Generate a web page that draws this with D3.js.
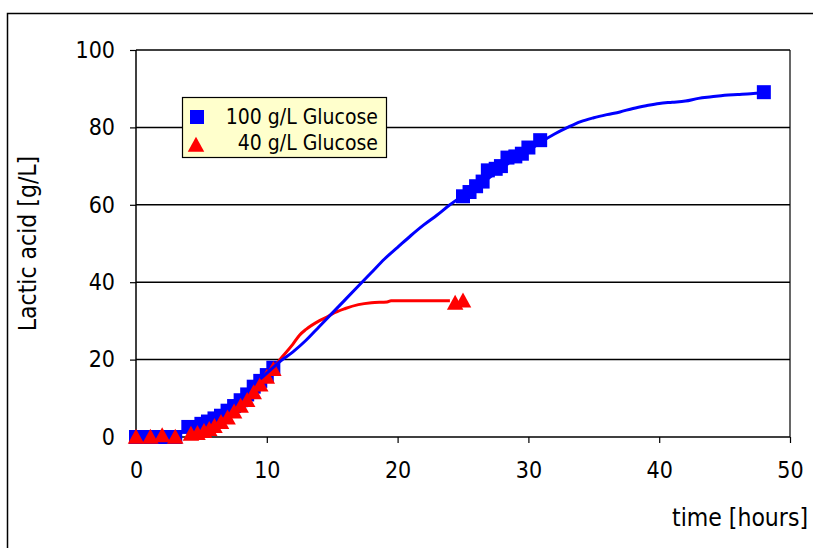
<!DOCTYPE html>
<html>
<head>
<meta charset="utf-8">
<script src="https://cdn.jsdelivr.net/npm/d3@7"></script>
<style>
  html, body { margin: 0; padding: 0; background: #fff; }
  svg { display: block; }
  text { font-family: "DejaVu Sans Condensed", "DejaVu Sans", Verdana, sans-serif; fill: #000; }
</style>
</head>
<body>
<svg id="chart" width="813" height="548"></svg>
<script>
// Measured lactic acid, 100 g/L glucose run: [time h, g/L]
const glucose100Time = [0, 1, 2, 3, 4, 4.6, 5, 5.5, 6, 6.5, 7, 7.5, 8, 8.5, 9, 9.5, 10, 10.5,
  25, 25.5, 26, 26.5, 26.9, 27.5, 27.9, 28.4, 29, 29.5, 30, 30.9, 48];
const glucose100Acid = [0, 0, 0, 0, 2.6, 2.5, 3.4, 4, 4.8, 5.5, 6.8, 8, 9.5, 11, 13, 14.5, 16, 17.9,
  62.2, 63.3, 64.8, 66, 68.9, 69.3, 70, 72.2, 72.5, 73.2, 74.8, 76.7, 89.1];

// Measured lactic acid, 40 g/L glucose run
const glucose40Time = [0, 1.1, 2, 3, 4.2, 4.7, 5.2, 5.6, 6, 6.5, 7, 7.5, 8, 8.5, 9, 9.5, 10, 10.5, 24.4, 25];
const glucose40Acid = [0, 0, 0.4, 0, 0.8, 1, 1.5, 2, 2.8, 3.8, 5, 6.5, 8, 9.5, 11.5, 13.5, 15.5, 17.5, 34.6, 35.2];

// Model curves
const model100Time = [9.5, 10.5, 11, 12, 13, 14, 15, 16, 17, 18, 19, 20, 21, 22, 23, 24, 25, 26, 27, 28,
  29, 30, 31, 32, 33, 34, 35, 36, 37, 38, 39, 40, 41, 42, 43, 44, 45, 46, 47, 48];
const model100Acid = [15, 18, 19.5, 22, 25, 28.5, 32, 35.5, 39, 42.5, 46, 49, 52, 54.8, 57.3, 60, 62.3, 64.5, 67, 69.5,
  72, 74, 76.3, 78.3, 80, 81.5, 82.5, 83.3, 84, 84.9, 85.6, 86.2, 86.5, 86.8, 87.5, 87.9, 88.3, 88.5, 88.7, 89];
const model40Time = [9.5, 10.5, 11, 12, 12.5, 13, 14, 14.7, 15, 16, 17, 18, 19.2, 19.5, 24];
const model40Acid = [14, 17.8, 20, 24, 26.3, 27.8, 30, 31.2, 31.8, 33.2, 34.2, 34.7, 34.9, 35.2, 35.2];

const xTicks = [0, 10, 20, 30, 40, 50];
const yTicks = [0, 20, 40, 60, 80, 100];
const legendLabels = ["100 g/L Glucose", "40 g/L Glucose"];
const xTitle = "time [hours]";
const yTitle = "Lactic acid [g/L]";

const FONT = "'DejaVu Sans Condensed', 'DejaVu Sans', Verdana, sans-serif";
const svg = d3.select("#chart");
const x = d3.scaleLinear().domain([0, 50]).range([136, 790]);
const y = d3.scaleLinear().domain([0, 100]).range([437, 50]);

// outer chart frame (runs off the right and bottom edges)
svg.append("path")
  .attr("d", "M7.5,548 L7.5,13.5 L813,13.5")
  .attr("fill", "none").attr("stroke", "#000").attr("stroke-width", 1.5);

// gridlines
svg.append("g").selectAll("line").data(yTicks.filter(d => d > 0)).join("line")
  .attr("x1", x(0)).attr("x2", x(50))
  .attr("y1", d => y(d)).attr("y2", d => y(d))
  .attr("stroke", "#000").attr("stroke-width", 1.5);
// right edge of plot area
svg.append("line").attr("x1", x(50)).attr("x2", x(50)).attr("y1", y(100)).attr("y2", y(0))
  .attr("stroke", "#000").attr("stroke-width", 1.2);

// axes
const xAxis = svg.append("g").attr("transform", `translate(0,${y(0)})`)
  .call(d3.axisBottom(x).tickValues(xTicks).tickSize(6).tickPadding(19).tickFormat(d3.format("d")));
const yAxis = svg.append("g").attr("transform", `translate(${x(0)},0)`)
  .call(d3.axisLeft(y).tickValues(yTicks).tickSize(6).tickPadding(15).tickFormat(d3.format("d")));
[xAxis, yAxis].forEach(g => {
  g.select(".domain").attr("stroke", "#000").attr("stroke-width", 1.5);
  g.selectAll(".tick line").attr("stroke", "#000").attr("stroke-width", 1.2);
  g.selectAll("text").style("font-family", FONT)
    .style("font-size", "23px").attr("fill", "#000");
});
yAxis.select(".domain").attr("d", `M0,${y(100)}V${y(0)}`);
xAxis.select(".domain").attr("d", `M0,0H${x(50) - x(0)}`).attr("transform", `translate(${x(0)},0)`);

// axis titles
svg.append("text").attr("x", 808).attr("y", 526).attr("text-anchor", "end")
  .style("font-size", "24.5px").text(xTitle);
svg.append("text").attr("transform", `translate(36,${(y(0) + y(100)) / 2}) rotate(-90)`)
  .attr("text-anchor", "middle").style("font-size", "24.5px").text(yTitle);

const squareSym = d3.symbol().type(d3.symbolSquare).size(196);
const triPath = (s) => `M0,${-s * 0.55}L${s * 0.55},${s * 0.45}L${-s * 0.55},${s * 0.45}Z`;

// measured points
const pts100 = glucose100Time.map((t, i) => [t, glucose100Acid[i]]);
const pts40 = glucose40Time.map((t, i) => [t, glucose40Acid[i]]);

svg.append("g").selectAll("path").data(pts100).join("path")
  .attr("d", squareSym)
  .attr("transform", d => `translate(${x(d[0])},${y(d[1])})`)
  .attr("fill", "#0000ff");
svg.append("g").selectAll("path").data(pts40).join("path")
  .attr("d", triPath(15))
  .attr("transform", d => `translate(${x(d[0])},${y(d[1])})`)
  .attr("fill", "#ff0000");

// model lines
const line = d3.line().x(d => x(d[0])).y(d => y(d[1])).curve(d3.curveMonotoneX);
svg.append("path").datum(model40Time.map((t, i) => [t, model40Acid[i]]))
  .attr("d", line).attr("fill", "none").attr("stroke", "#ff0000").attr("stroke-width", 3);
svg.append("path").datum(model100Time.map((t, i) => [t, model100Acid[i]]))
  .attr("d", line).attr("fill", "none").attr("stroke", "#0000ff").attr("stroke-width", 3);

// legend
const lg = svg.append("g");
lg.append("rect").attr("x", 182.5).attr("y", 97.5).attr("width", 204).attr("height", 60)
  .attr("fill", "#ffffcc").attr("stroke", "#000").attr("stroke-width", 1.2);
lg.append("path").attr("d", squareSym).attr("transform", "translate(197,117)").attr("fill", "#0000ff");
lg.append("path").attr("d", triPath(15)).attr("transform", "translate(196,145)").attr("fill", "#ff0000");
lg.selectAll("text.lbl").data(legendLabels).join("text").attr("class", "lbl")
  .attr("x", 378).attr("y", (d, i) => 124 + i * 26).attr("text-anchor", "end")
  .style("font-size", "21px").text(d => d);
</script>
</body>
</html>
